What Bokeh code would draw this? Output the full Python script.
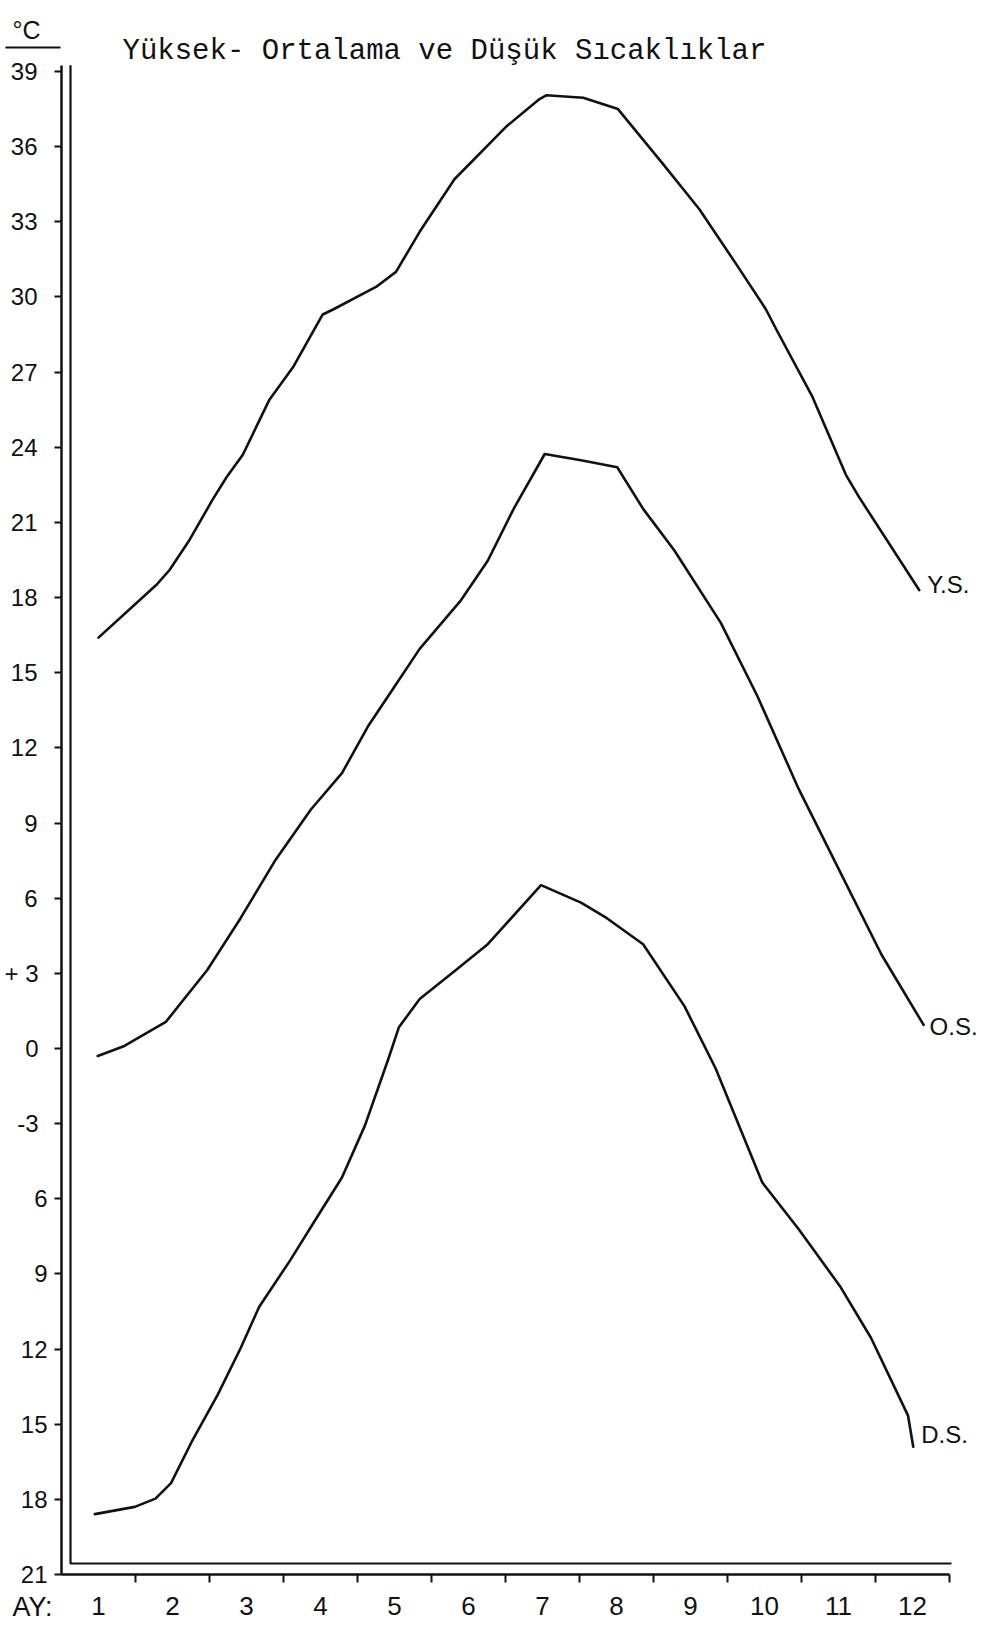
from bokeh.plotting import figure
from bokeh.models import Range1d, FixedTicker, Label, LinearAxis
from bokeh.embed import file_html
from bokeh.resources import INLINE

# ---------------- data ----------------
months = list(range(1, 13))
month_bounds = [m + 0.5 for m in months]
y_ticks_top = [39, 36, 33, 30, 27, 24, 21, 18, 15, 12, 9, 6]
y_ticks_mid = [3, 0, -3]
y_ticks_low = [-6, -9, -12, -15, -18, -21]
y_tick_labels = {
    39: "39", 36: "36", 33: "33", 30: "30", 27: "27", 24: "24", 21: "21",
    18: "18", 15: "15", 12: "12", 9: "9", 6: "6", 3: "+ 3", 0: "0",
    -3: "-3", -6: "6", -9: "9", -12: "12", -15: "15", -18: "18", -21: "21",
}

title_text = "Yüksek- Ortalama ve Düşük Sıcaklıklar"
unit_text = "°C"
x_name = "AY:"
series_names = ["Y.S.", "O.S.", "D.S."]

# Y.S. (yüksek sıcaklık)
ys_month = [1.0, 1.78, 1.96, 2.23, 2.54, 2.73, 2.95, 3.31, 3.63, 4.03, 4.17,
            4.75, 5.02, 5.34, 5.81, 6.51, 6.96, 7.05, 7.55, 8.02, 8.63, 9.12,
            9.62, 10.02, 10.16, 10.65, 11.10, 11.28, 12.09]
ys_temp = [16.4, 18.5, 19.1, 20.3, 21.9, 22.8, 23.7, 25.9, 27.2, 29.3, 29.5,
           30.4, 31.0, 32.6, 34.7, 36.8, 37.9, 38.05, 37.95, 37.5, 35.3, 33.5,
           31.3, 29.5, 28.7, 26.0, 22.9, 22.0, 18.3]

# O.S. (ortalama sıcaklık)
os_month = [0.99, 1.35, 1.91, 2.47, 2.92, 3.38, 3.87, 4.29, 4.64, 4.92, 5.34,
            5.90, 6.26, 6.61, 7.03, 7.52, 8.01, 8.36, 8.78, 9.41, 9.90, 10.46,
            11.02, 11.58, 12.15]
os_temp = [-0.3, 0.1, 1.06, 3.13, 5.2, 7.47, 9.54, 10.99, 12.85, 14.09, 15.95,
           17.9, 19.47, 21.54, 23.73, 23.48, 23.2, 21.54, 19.89, 16.99, 14.09,
           10.37, 7.06, 3.75, 0.94]

# D.S. (düşük sıcaklık)
ds_month = [0.95, 1.49, 1.77, 1.98, 2.26, 2.61, 2.92, 3.17, 3.59, 3.94, 4.29,
            4.60, 4.92, 5.06, 5.34, 5.83, 6.26, 6.98, 7.52, 7.87, 8.36, 8.92,
            9.34, 9.97, 10.46, 11.02, 11.44, 11.94, 12.01]
ds_temp = [-18.59, -18.3, -17.97, -17.35, -15.7, -13.83, -11.97, -10.32, -8.46,
           -6.8, -5.15, -3.08, -0.39, 0.85, 1.97, 3.13, 4.16, 6.52, 5.82, 5.2,
           4.16, 1.68, -0.8, -5.35, -7.21, -9.49, -11.56, -14.66, -15.9]

# ---------------- geometry ----------------
W, H = 983, 1627            # canvas (Bokeh's page template has no body margin)
PAGE_OFF = 0
AXIS_X_PX = 61              # page x of the left (outer) axis line = month 0.5
Y39_PX = 71                 # page y of the 39 tick
PX_PER_MONTH = 74.0
PX_PER_DEG = 25.05
X_START, X_END = 0.5, 12.5   # month axis extent
Y_START, Y_END = -21, 39.25  # temperature axis extent


def data_x(page_x):
    return X_START + (page_x - AXIS_X_PX) / PX_PER_MONTH


def data_y(page_y):
    return 39 - (page_y - Y39_PX) / PX_PER_DEG


x_lo, x_hi = data_x(PAGE_OFF), data_x(PAGE_OFF + W)
y_hi, y_lo = data_y(PAGE_OFF), data_y(PAGE_OFF + H)

INK = "#111111"
FONT = "Liberation Sans"

p = figure(
    width=W, height=H,
    x_range=Range1d(x_lo, x_hi), y_range=Range1d(y_lo, y_hi),
    output_backend="svg", toolbar_location=None,
    min_border=0, min_border_left=0, min_border_right=0,
    min_border_top=0, min_border_bottom=0,
    background_fill_color="white", border_fill_color="white",
)
p.outline_line_color = None
p.grid.visible = False

# x axis: labels at month centres, ticks at month boundaries
xa = p.xaxis[0]
xa.fixed_location = Y_START
xa.bounds = (X_START, X_END)
xa.ticker = FixedTicker(ticks=months, minor_ticks=month_bounds)
xa.major_tick_line_color = None
xa.major_tick_out = 0
xa.major_tick_in = 0
xa.minor_tick_out = 8
xa.minor_tick_in = 0
xa.minor_tick_line_width = 2
xa.minor_tick_line_color = INK
xa.axis_line_width = 2.5
xa.axis_line_color = INK
xa.major_label_text_font = FONT
xa.major_label_text_font_size = "26px"
xa.major_label_text_color = INK
xa.major_label_standoff = 14


def style_y(axis, ticks, standoff, draw_line):
    axis.fixed_location = X_START
    axis.bounds = (Y_START, Y_END)
    axis.ticker = FixedTicker(ticks=ticks, minor_ticks=[])
    axis.major_label_overrides = y_tick_labels
    axis.major_tick_out = 7
    axis.major_tick_in = 0
    axis.major_tick_line_width = 2
    axis.major_tick_line_color = INK
    axis.minor_tick_line_color = None
    axis.axis_line_width = 2.5
    axis.axis_line_color = INK if draw_line else None
    axis.major_label_text_font = FONT
    axis.major_label_text_font_size = "24px"
    axis.major_label_text_color = INK
    axis.major_label_standoff = standoff


# y axis (labels of the three groups sit at slightly different distances)
style_y(p.yaxis[0], y_ticks_top, 17, True)
ya_mid = LinearAxis()
style_y(ya_mid, y_ticks_mid, 16, False)
p.add_layout(ya_mid, "left")
ya_low = LinearAxis()
style_y(ya_low, y_ticks_low, 7, False)
p.add_layout(ya_low, "left")

# inner line of the double axis frame
inner_x = data_x(AXIS_X_PX + 9)
inner_y = data_y(1563)
p.line([inner_x, inner_x, data_x(951)], [Y_END, inner_y, inner_y],
       line_color=INK, line_width=2.2)

# curves
for xs, ys in [(ys_month, ys_temp), (os_month, os_temp), (ds_month, ds_temp)]:
    p.line(xs, ys, line_color=INK, line_width=2.6, line_join="round", line_cap="round")

# series labels at curve ends
for xs, ys, name, dx, dy in [(ys_month, ys_temp, series_names[0], 8, 6),
                             (os_month, os_temp, series_names[1], 6, -2),
                             (ds_month, ds_temp, series_names[2], 8, 12)]:
    p.add_layout(Label(x=xs[-1], y=ys[-1], x_offset=dx, y_offset=dy, text=name,
                       text_font=FONT, text_font_size="24px", text_color=INK,
                       text_baseline="middle", text_align="left"))

# title
p.add_layout(Label(x=data_x(122), y=data_y(51), text=title_text,
                   text_font="Liberation Mono", text_font_size="29px",
                   text_color=INK, text_baseline="middle", text_align="left"))

# unit label with a rule under it
p.add_layout(Label(x=data_x(12), y=data_y(29), text=unit_text,
                   text_font=FONT, text_font_size="25px", text_color=INK,
                   text_baseline="middle", text_align="left"))
p.line([data_x(5), data_x(60)], [data_y(47), data_y(47)], line_color=INK, line_width=2)

# "AY:" name of the month axis
p.add_layout(Label(x=data_x(12), y=data_y(1606), text=x_name,
                   text_font=FONT, text_font_size="27px", text_color=INK,
                   text_baseline="middle", text_align="left"))

open("out.html", "w").write(file_html(p, INLINE))
